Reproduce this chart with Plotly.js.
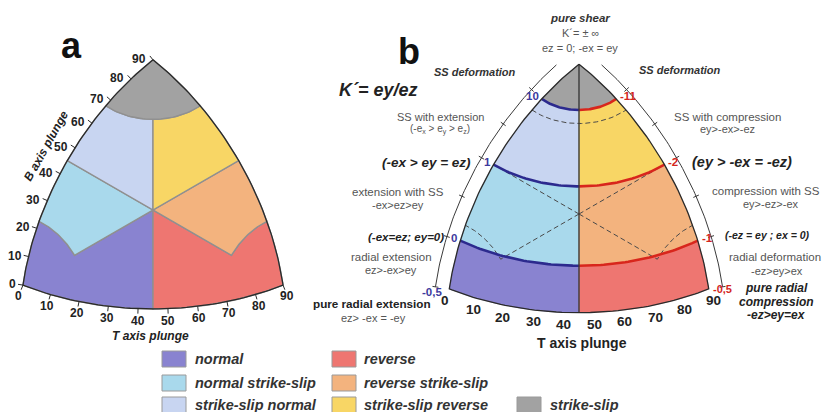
<!DOCTYPE html>
<html><head><meta charset="utf-8">
<script src="https://cdn.plot.ly/plotly-3.0.1.min.js"></script>
<style>html,body{margin:0;padding:0;background:#fff}</style>
</head><body><div id="chart" style="width:826px;height:412px"></div>
<script>
// ---------------- data ----------------
const classNames = ['normal','normal strike-slip','strike-slip normal','reverse','reverse strike-slip','strike-slip reverse','strike-slip'];
const classColors = ['#8983d0','#a9d9ec','#c8d5f1','#ee7671','#f3b37e','#f8d665','#a2a2a2'];
const plungeTicks = [0,10,20,30,40,50,60,70,80,90];
const classLimit = 67.5;                 // plunge threshold of the classification
const kPlunge = [0, 17, 45, 72.5];       // B plunge of the K' contours
const kLabelsLeft = ['-0,5','0','1','10'];
const kLabelsRight = ['-0,5','-1','-2','-11'];
const kMinorPlunge = [31, 58];
const bandColorsLeft = ['#8983d0','#a9d9ec','#c8d5f1','#a2a2a2'];
const bandColorsRight = ['#ee7671','#f3b37e','#f8d665','#a2a2a2'];

// ---------------- geometry ----------------
const W=826, H=412, F='Liberation Sans, Arial, sans-serif';
const SA=400, CXa=153, CYa=210;   // panel a scale / centre (px)
const SB=399, CXb=579, CYb=214;   // panel b
const D=Math.PI/180;
const norm=v=>{const m=Math.hypot(v[0],v[1],v[2]);return v.map(c=>c/m);};
// Kaverina projection of (sinT, sinB, sinP)
function kav(v){
  const [zt,zb,zp]=v;
  const N=Math.sqrt(2*((zb-zp)**2+(zb-zt)**2+(zt-zp)**2));
  if(N<1e-9) return [0,0];
  const L=2*Math.sin(0.5*Math.acos(Math.min(1,(zt+zb+zp)/Math.sqrt(3))));
  return [L*(zt-zp)/Math.SQRT2/N, L*(2*zb-zp-zt)/Math.sqrt(6)/N];
}
const bPt=(B,phi)=>[Math.cos(B*D)*Math.sin(phi*D),Math.sin(B*D),Math.cos(B*D)*Math.cos(phi*D)];
const pPt=(P,psi)=>[Math.cos(P*D)*Math.sin(psi*D),Math.cos(P*D)*Math.cos(psi*D),Math.sin(P*D)];
const tPt=(T,psi)=>[Math.sin(T*D),Math.cos(T*D)*Math.cos(psi*D),Math.cos(T*D)*Math.sin(psi*D)];
const leftPt=B=>[0,Math.sin(B*D),Math.cos(B*D)];
const rightPt=B=>[Math.cos(B*D),Math.sin(B*D),0];
const bottomPt=T=>[Math.sin(T*D),0,Math.cos(T*D)];
function gc(a,b,n=40){const o=[];for(let i=0;i<=n;i++){const t=i/n;o.push(norm([a[0]*(1-t)+b[0]*t,a[1]*(1-t)+b[1]*t,a[2]*(1-t)+b[2]*t]));}return o;}
function arc(fn,c,a0,a1,n=40){const o=[];for(let i=0;i<=n;i++)o.push(fn(c,a0+(a1-a0)*i/n));return o;}
function meridian(phi,B0,B1,n=30){const o=[];for(let i=0;i<=n;i++)o.push(bPt(B0+(B1-B0)*i/n,phi));return o;}
const path=(...s)=>[].concat(...s);
function xy(pts){const x=[],y=[];pts.forEach(p=>{if(p===null){x.push(null);y.push(null);}else{const q=kav(p);x.push(q[0]);y.push(q[1]);}});return {x,y};}
function edgeNormal(fn,t,outLeft){
  const a=kav(fn(Math.max(0,t-0.5))), b=kav(fn(Math.min(90,t+0.5)));
  let tx=b[0]-a[0], ty=b[1]-a[1]; const m=Math.hypot(tx,ty); tx/=m; ty/=m;
  return outLeft?[-ty,tx]:[ty,-tx];
}

const VN=[0,0,1], VR=[1,0,0], VS=[0,1,0], C=norm([1,1,1]);
const botMid=norm([1,0,1]), leftMid=norm([0,1,1]), rightMid=norm([1,1,0]);
const lim=classLimit;
const leftLim=pPt(lim,0), cuspN=pPt(lim,45), rightLim=tPt(lim,0), cuspR=tPt(lim,45);
const leftTop=bPt(lim,0), centerTop=bPt(lim,45), rightTop=bPt(lim,90);

const classPolys=[
  path(gc(VN,botMid),gc(botMid,C),gc(C,cuspN),arc(pPt,lim,45,0),gc(leftLim,VN)),
  path(gc(leftLim,leftMid),gc(leftMid,C),gc(C,cuspN),arc(pPt,lim,45,0)),
  path(gc(leftMid,leftTop),arc(bPt,lim,0,45),gc(centerTop,C),gc(C,leftMid)),
  path(gc(VR,botMid),gc(botMid,C),gc(C,cuspR),arc(tPt,lim,45,0),gc(rightLim,VR)),
  path(gc(rightLim,rightMid),gc(rightMid,C),gc(C,cuspR),arc(tPt,lim,45,0)),
  path(gc(rightMid,rightTop),arc(bPt,lim,90,45),gc(centerTop,C),gc(C,rightMid)),
  path(arc(bPt,lim,0,90),gc(rightTop,VS),gc(VS,leftTop))
];

const traces=[];
const line=(pts,color,width,xa,ya,dash)=>{const q=xy(pts);return {type:'scatter',mode:'lines',x:q.x,y:q.y,xaxis:xa,yaxis:ya,line:{color,width,dash:dash||'solid'},hoverinfo:'skip',showlegend:false};};
// ---- panel a ----
classPolys.forEach((p,i)=>{const q=xy(p);traces.push({type:'scatter',mode:'lines',x:q.x,y:q.y,fill:'toself',fillcolor:classColors[i],line:{color:'#909090',width:1.4},name:classNames[i],hoverinfo:'name',showlegend:false,xaxis:'x',yaxis:'y'});});
const outline=path(gc(VS,VN,60),gc(VN,VR,60),gc(VR,VS,60));
traces.push(line(outline,'#2a2a2a',1.3,'x','y'));
// ticks panel a
(function(){
  const tx=[],ty=[];
  plungeTicks.forEach(v=>{
    [[leftPt,true],[bottomPt,false]].forEach(([fn,ol])=>{
      const p=kav(fn(v)), n=edgeNormal(fn,v,ol), d=5/SA;
      tx.push(p[0],p[0]+n[0]*d,null); ty.push(p[1],p[1]+n[1]*d,null);
    });
  });
  traces.push({type:'scatter',mode:'lines',x:tx,y:ty,xaxis:'x',yaxis:'y',line:{color:'#2a2a2a',width:1},hoverinfo:'skip',showlegend:false});
})();

// ---- panel b ----
kPlunge.forEach((b0,i)=>{
  const b1=i<kPlunge.length-1?kPlunge[i+1]:90;
  const L=path(arc(bPt,b0,0,45),meridian(45,b0,b1),arc(bPt,b1,45,0),meridian(0,b1,b0));
  const R=path(arc(bPt,b0,45,90),meridian(90,b0,b1),arc(bPt,b1,90,45),meridian(45,b1,b0));
  [[L,bandColorsLeft[i]],[R,bandColorsRight[i]]].forEach(([p,c])=>{const q=xy(p);traces.push({type:'scatter',mode:'lines',x:q.x,y:q.y,fill:'toself',fillcolor:c,line:{color:c,width:0.5},hoverinfo:'skip',showlegend:false,xaxis:'x2',yaxis:'y2'});});
});
const dashed=path(gc(C,cuspN),arc(pPt,lim,45,0),[null],gc(C,leftMid),[null],gc(C,cuspR),arc(tPt,lim,45,0),[null],gc(C,rightMid),[null],arc(bPt,lim,0,90));
traces.push(line(dashed,'#4a4a4a',1,'x2','y2','5px,3px'));
const blue=[],red=[];
kPlunge.slice(1).forEach(b=>{blue.push(...arc(bPt,b,0,45),null);red.push(...arc(bPt,b,45,90),null);});
traces.push(line(blue,'#2c2a8e',2.6,'x2','y2'));
traces.push(line(red,'#d8261c',2.6,'x2','y2'));
traces.push(line(gc(botMid,VS,40),'#3a3a3a',1.4,'x2','y2'));
traces.push(line(outline,'#2a2a2a',1.3,'x2','y2'));
// outer arcs with ticks
(function(){
  const d=14/SB, t=3/SB;
  [[leftPt,true],[rightPt,false]].forEach(([fn,ol])=>{
    const ax=[],ay=[];
    for(let B=0;B<=84;B+=1){const p=kav(fn(B)),n=edgeNormal(fn,B,ol);ax.push(p[0]+n[0]*d);ay.push(p[1]+n[1]*d);}
    traces.push({type:'scatter',mode:'lines',x:ax,y:ay,xaxis:'x2',yaxis:'y2',line:{color:'#3a3a3a',width:1},hoverinfo:'skip',showlegend:false});
    const kx=[],ky=[];
    kPlunge.concat(kMinorPlunge).forEach(B=>{const p=kav(fn(B)),n=edgeNormal(fn,B,ol);kx.push(p[0]+n[0]*(d-t),p[0]+n[0]*(d+t),null);ky.push(p[1]+n[1]*(d-t),p[1]+n[1]*(d+t),null);});
    traces.push({type:'scatter',mode:'lines',x:kx,y:ky,xaxis:'x2',yaxis:'y2',line:{color:'#3a3a3a',width:1},hoverinfo:'skip',showlegend:false});
  });
})();

// ---------------- annotations ----------------
const ann=[];
const fnt=(size,color,o)=>({family:F,size,color,weight:o.b?'bold':'normal',style:o.i?'italic':'normal'});
const A=(text,x,y,size,color,o={})=>ann.push({text,x:x/W,y:1-y/H,xref:'paper',yref:'paper',showarrow:false,xanchor:o.xa||'center',yanchor:'middle',textangle:o.angle||0,font:fnt(size,color,o)});
// panel a / b tick labels
plungeTicks.forEach(v=>{
  const p=kav(leftPt(v));
  ann.push({text:String(v),x:p[0],y:p[1],xref:'x',yref:'y',showarrow:false,xanchor:'right',yanchor:'middle',xshift:-5,yshift:1,font:fnt(12,'#222',{b:true})});
  const q=kav(bottomPt(v)), n=edgeNormal(bottomPt,v,false), d=12/SA;
  ann.push({text:String(v),x:q[0]+n[0]*d,y:q[1]+n[1]*d,xref:'x',yref:'y',showarrow:false,xanchor:'center',yanchor:'middle',font:fnt(12,'#222',{b:true})});
  const d2=12/SB;
  ann.push({text:String(v),x:q[0]+n[0]*d2,y:q[1]+n[1]*d2,xref:'x2',yref:'y2',showarrow:false,xanchor:'center',yanchor:'middle',font:fnt(13.5,'#222',{b:true})});
});
// K' labels
kPlunge.forEach((B,i)=>{
  const pl=kav(leftPt(B)), pr=kav(rightPt(B));
  ann.push({text:kLabelsLeft[i],x:pl[0],y:pl[1],xref:'x2',yref:'y2',showarrow:false,xanchor:'right',yanchor:'middle',xshift:i===0?-5:-1,yshift:i===0?-3:3,font:fnt(11.5,'#3d3a9e',{b:true})});
  ann.push({text:kLabelsRight[i],x:pr[0],y:pr[1],xref:'x2',yref:'y2',showarrow:false,xanchor:'left',yanchor:'middle',xshift:2,yshift:i===0?0:3,font:fnt(i===0?11:11.5,'#d4261d',{b:true})});
});
A('a',71,46,36,'#111',{b:true});
A('B axis plunge',46,146,12,'#222',{angle:-61,b:true,i:true});
A('T axis plunge',150,336,12,'#222',{b:true,i:true});
A('b',409,52,36,'#111',{b:true});
A('T axis plunge',582,343,14,'#222',{b:true});
A('pure shear',580,18,11.5,'#333',{b:true,i:true});
A('K´= ± ∞',580,33,11,'#555');
A('ez = 0; -ex = ey',580,48,11,'#555');
A('SS deformation',475,72,11,'#333',{b:true,i:true});
A('SS deformation',680,70,11,'#333',{b:true,i:true});
A('K´= ey/ez',378,90,18,'#222',{b:true,i:true});
A('SS with extension',440,117,11,'#555');
A('(-e<sub>x</sub> > e<sub>y</sub> > e<sub>z</sub>)',440,129,10,'#555');
A('(-ex > ey = ez)',426,163,13.5,'#222',{b:true,i:true});
A('extension with SS',398,192,11.5,'#555');
A('-ex>ez>ey',398,205,11,'#555');
A('(-ex=ez; ey=0)',406,237,11.5,'#222',{b:true,i:true});
A('radial extension',391,257,11.5,'#555');
A('ez>-ex>ey',391,270,11,'#555');
A('pure radial extension',372,303,11.7,'#222',{b:true});
A('ez> -ex = -ey',373,318,11,'#555');
A('SS with compression',727,117,11.5,'#555');
A('ey>-ex>-ez',727,129,11,'#555');
A('(ey > -ex = -ez)',742,162,14.5,'#222',{b:true,i:true});
A('compression with SS',766,191,11.5,'#555');
A('ey>-ez>-ex',771,204,11,'#555');
A('(-ez = ey ; ex = 0)',767,235,10.5,'#222',{b:true,i:true});
A('radial deformation',775,257,11.5,'#555');
A('-ez>ey>ex',777,271,11,'#555');
A('pure radial',776,288,12,'#222',{b:true,i:true});
A('compression',776,302,12,'#222',{b:true,i:true});
A('-ez>ey=ex',776,315,12,'#222',{b:true,i:true});

// legend
const legCols=[[162,193],[332,362],[517,548]];
const legRows=[359,383,405];
const legPos=[[0,0],[0,1],[0,2],[1,0],[1,1],[1,2],[2,2]];
const shapes=[];
classNames.forEach((nm,i)=>{
  const [c,r]=legPos[i], [sx,lx]=legCols[c], cy=legRows[r];
  shapes.push({type:'rect',xref:'paper',yref:'paper',x0:sx/W,x1:(sx+24)/W,y0:1-(cy+8)/H,y1:1-(cy-8)/H,fillcolor:classColors[i],line:{color:'#9a9a9a',width:1}});
  A(nm,lx,cy,14.5,'#333',{xa:'left',b:true,i:true});
});

const ax=(dom,r,anchor)=>({domain:dom,range:r,visible:false,fixedrange:true,anchor});
const layout={
  width:W,height:H,margin:{l:0,r:0,t:0,b:0},paper_bgcolor:'#fff',plot_bgcolor:'rgba(0,0,0,0)',
  xaxis:ax([0,0.5],[(0-CXa)/SA,(413-CXa)/SA],'y'),
  yaxis:ax([0,1],[(CYa-412)/SA,CYa/SA],'x'),
  xaxis2:ax([0.5,1],[(413-CXb)/SB,(826-CXb)/SB],'y2'),
  yaxis2:ax([0,1],[(CYb-412)/SB,CYb/SB],'x2'),
  annotations:ann,shapes,showlegend:false,hovermode:false
};
Plotly.newPlot('chart',traces,layout,{displayModeBar:false,staticPlot:true});
</script></body></html>
